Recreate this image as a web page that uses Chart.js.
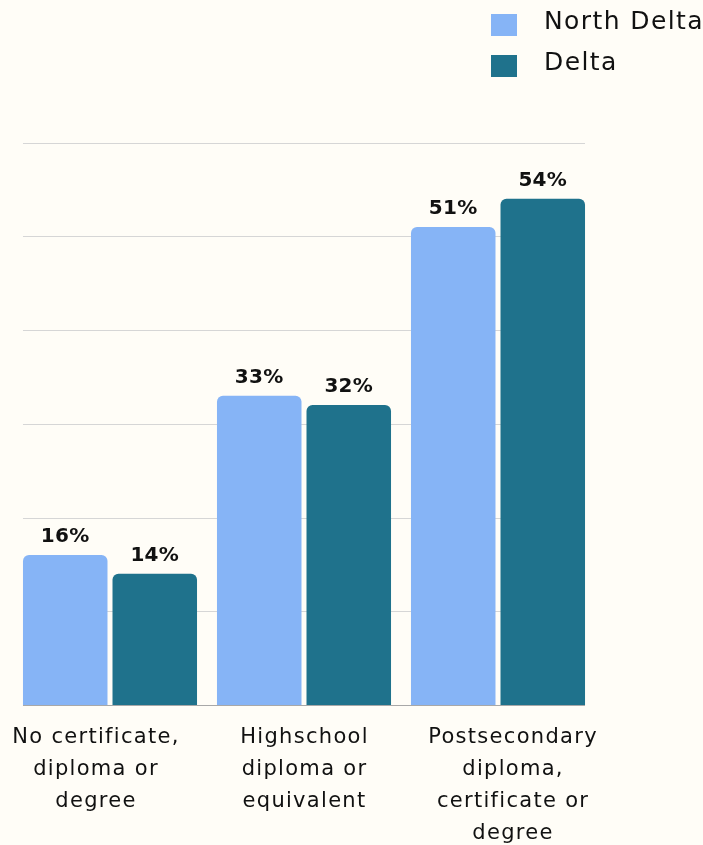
<!DOCTYPE html>
<html>
<head>
<meta charset="utf-8">
<script src="https://cdn.jsdelivr.net/npm/chart.js@4.4.1/dist/chart.umd.min.js"></script>
<style>
  html, body { margin: 0; padding: 0; background: #fffdf7; }
  canvas { display: block; }
</style>
</head>
<body>
<canvas id="chart" width="703" height="845"></canvas>
<script>
const categories = [
    ['No certificate,', 'diploma or', 'degree'],
    ['Highschool', 'diploma or', 'equivalent'],
    ['Postsecondary', 'diploma,', 'certificate or', 'degree']
];
const northDelta = [16, 33, 51];
const delta = [14, 32, 54];
const yTicks = [0, 10, 20, 30, 40, 50, 60];

const fontFamily = '"DejaVu Sans", sans-serif';

// wider tracking, the original font is a wide geometric one
const tracking = {
    id: 'tracking',
    beforeDraw(chart) {
        chart.ctx.letterSpacing = '1.3px';
    }
};

// grid lines only span the bars, like the original
const gridPlugin = {
    id: 'grid',
    beforeDatasetsDraw(chart) {
        const ctx = chart.ctx;
        const y = chart.scales.y;
        const first = chart.getDatasetMeta(0).data[0];
        const last = chart.getDatasetMeta(chart.data.datasets.length - 1).data.slice(-1)[0];
        const left = first.x - first.width / 2;
        const right = last.x + last.width / 2;
        ctx.save();
        yTicks.forEach(function (t) {
            const py = Math.round(y.getPixelForValue(t)) + 0.5;
            ctx.strokeStyle = t === 0 ? '#a8a8a8' : '#d6d6d6';
            ctx.lineWidth = 1;
            ctx.beginPath();
            ctx.moveTo(left, py);
            ctx.lineTo(right, py);
            ctx.stroke();
        });
        ctx.restore();
    }
};

const valueLabels = {
    id: 'valueLabels',
    afterDatasetsDraw(chart) {
        const ctx = chart.ctx;
        ctx.save();
        ctx.letterSpacing = '0.3px';
        ctx.font = 'bold 20px ' + fontFamily;
        ctx.fillStyle = '#111111';
        ctx.textAlign = 'center';
        ctx.textBaseline = 'bottom';
        chart.data.datasets.forEach(function (ds, i) {
            chart.getDatasetMeta(i).data.forEach(function (bar, j) {
                ctx.fillText(ds.data[j] + '%', bar.x, bar.y - 8);
            });
        });
        ctx.restore();
    }
};

const stackedLegend = {
    id: 'stackedLegend',
    afterDraw(chart) {
        const ctx = chart.ctx;
        ctx.save();
        ctx.letterSpacing = '1.4px';
        ctx.font = '25px ' + fontFamily;
        ctx.textBaseline = 'middle';
        ctx.textAlign = 'left';
        chart.data.datasets.forEach(function (ds, i) {
            const top = 14 + i * 41;
            ctx.fillStyle = ds.backgroundColor;
            ctx.fillRect(491, top, 26, 22);
            ctx.fillStyle = '#111111';
            ctx.fillText(ds.label, 544, top + 8);
        });
        ctx.restore();
    }
};

new Chart(document.getElementById('chart'), {
    type: 'bar',
    data: {
        labels: categories,
        datasets: [
            {
                label: 'North Delta',
                data: northDelta,
                backgroundColor: '#86b4f6',
                borderRadius: 6,
                categoryPercentage: 0.923,
                barPercentage: 0.944
            },
            {
                label: 'Delta',
                data: delta,
                backgroundColor: '#1f728c',
                borderRadius: 6,
                categoryPercentage: 0.923,
                barPercentage: 0.944
            }
        ]
    },
    options: {
        responsive: false,
        animation: false,
        layout: { padding: { left: 13, right: 108, top: 142.5, bottom: 0 } },
        plugins: {
            legend: { display: false },
            tooltip: { enabled: false }
        },
        scales: {
            x: {
                display: false
            },
            // category labels sit a bit wider apart than the bar groups
            labelAxis: {
                type: 'linear',
                position: 'bottom',
                offset: false,
                bounds: 'data',
                min: 0.602,
                max: 3.393,
                grid: { display: false, drawTicks: false, offset: false },
                border: { display: false },
                afterBuildTicks(scale) {
                    scale.ticks = categories.map(function (c, i) { return { value: i + 1 }; });
                },
                ticks: {
                    color: '#111111',
                    padding: 17,
                    maxRotation: 0,
                    autoSkip: false,
                    font: { family: fontFamily, size: 21, lineHeight: '32px' },
                    callback(value) { return categories[value - 1]; }
                },
                afterFit(scale) { scale.height = 140; }
            },
            y: {
                display: false,
                min: 0,
                max: 60,
                ticks: { stepSize: 10 }
            }
        }
    },
    plugins: [tracking, gridPlugin, valueLabels, stackedLegend]
});
</script>
</body>
</html>
